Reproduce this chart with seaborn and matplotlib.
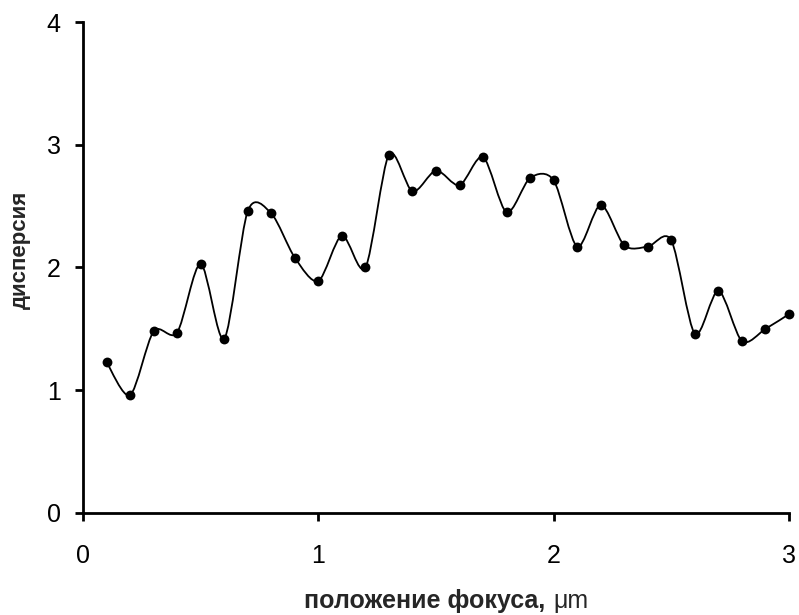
#!/usr/bin/env python3

import matplotlib
matplotlib.use("Agg")
import matplotlib.pyplot as plt
import numpy as np
import pandas as pd
import seaborn as sns
from matplotlib.path import Path
from matplotlib.patches import PathPatch
from matplotlib.offsetbox import TextArea, HPacker, AnchoredOffsetbox


focus_um = [0.1, 0.2, 0.3, 0.4, 0.5, 0.6, 0.7, 0.8, 0.9, 1.0,
            1.1, 1.2, 1.3, 1.4, 1.5, 1.6, 1.7, 1.8, 1.9, 2.0,
            2.1, 2.2, 2.3, 2.4, 2.5, 2.6, 2.7, 2.8, 2.9, 3.0]
dispersion = [1.23, 0.96, 1.48, 1.47, 2.03, 1.42, 2.46, 2.44, 2.08, 1.89,
              2.26, 2.00, 2.92, 2.62, 2.79, 2.67, 2.90, 2.45, 2.73, 2.71,
              2.17, 2.51, 2.18, 2.17, 2.22, 1.46, 1.81, 1.40, 1.50, 1.62]
x_ticks = [0, 1, 2, 3]
y_ticks = [0, 1, 2, 3, 4]

df = pd.DataFrame({"focus": focus_um, "disp": dispersion})

sns.set_style("ticks")
plt.rcParams["font.family"] = ["Liberation Sans", "DejaVu Sans"]

fig = plt.figure(figsize=(7.99, 6.15), dpi=100)
ax = fig.add_axes([0.1039, 0.1659, 0.8836, 0.7983])

# smoothed line like a spreadsheet "smooth line": Catmull-Rom as cubic beziers
pts = df[["focus", "disp"]].to_numpy()
ext = np.vstack([pts[0], pts, pts[-1]])
tension = 1 / 7.0
verts = [tuple(pts[0])]
codes = [Path.MOVETO]
for i in range(1, len(ext) - 2):
    p0, p1, p2, p3 = ext[i - 1], ext[i], ext[i + 1], ext[i + 2]
    c1 = p1 + (p2 - p0) * tension
    c2 = p2 - (p3 - p1) * tension
    verts += [tuple(c1), tuple(c2), tuple(p2)]
    codes += [Path.CURVE4] * 3
ax.add_patch(PathPatch(Path(verts, codes), facecolor="none", edgecolor="black",
                       linewidth=1.3, clip_on=False, zorder=2))

sns.scatterplot(data=df, x="focus", y="disp", ax=ax, color="black", s=50,
                edgecolor="black", linewidth=0, clip_on=False, zorder=3)

ax.set_xlim(0, 3)
ax.set_ylim(0, 4)
ax.set_xticks(x_ticks)
ax.set_yticks(y_ticks)
ax.set_xticklabels([str(t) for t in x_ticks])
ax.set_yticklabels([str(t) for t in y_ticks])
ax.tick_params(axis="both", direction="out", length=6, width=2, labelsize=18,
               color="black", labelcolor="black")
ax.tick_params(axis="x", pad=16)
ax.tick_params(axis="y", pad=10)
for side in ["left", "bottom"]:
    ax.spines[side].set_linewidth(2)
    ax.spines[side].set_color("black")
sns.despine(ax=ax)

ax.set_xlabel("")
ax.set_ylabel("дисперсия", fontsize=16, fontweight="bold")
ax.yaxis.set_label_coords(-0.074, 0.536)

label = HPacker(children=[
    TextArea("положение фокуса,", textprops=dict(fontsize=18, fontweight="bold")),
    TextArea("μm", textprops=dict(fontsize=18)),
], align="baseline", pad=0, sep=6)
box = AnchoredOffsetbox(loc="lower center", child=label, pad=0, frameon=False,
                        bbox_to_anchor=(0.514, -0.204), bbox_transform=ax.transAxes,
                        borderpad=0)
ax.add_artist(box)

plt.savefig("out.png", dpi=100)
